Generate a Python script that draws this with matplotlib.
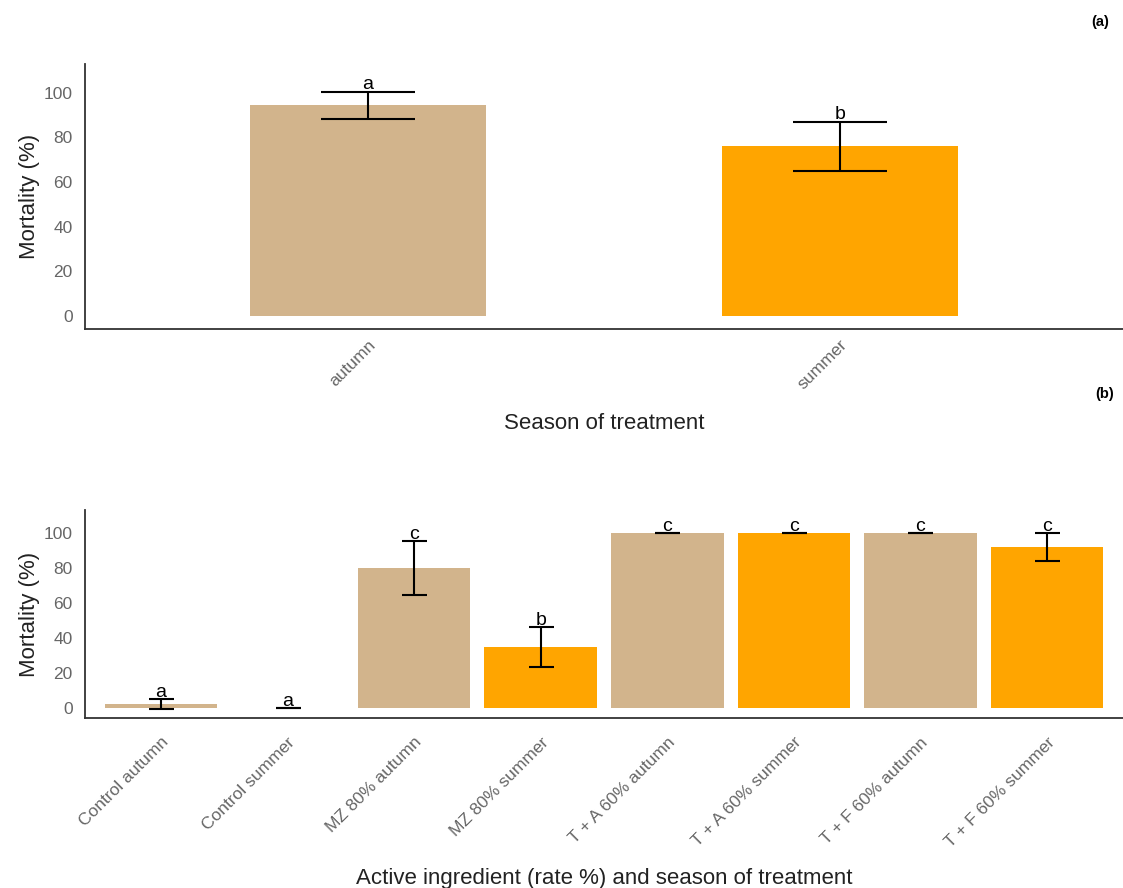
import matplotlib
matplotlib.use("Agg")
import matplotlib.pyplot as plt
import numpy as np

plt.rcParams['font.family'] = ['Liberation Sans', 'DejaVu Sans']

# panel (a): season of treatment
seasons = ["autumn", "summer"]
season_mean = [94.5, 76]
season_err = [6, 11]
season_letters = ["a", "b"]

# panel (b): active ingredient x season
treatments = ["Control autumn", "Control summer", "MZ 80% autumn", "MZ 80% summer",
              "T + A 60% autumn", "T + A 60% summer", "T + F 60% autumn", "T + F 60% summer"]
treat_mean = [2, 0, 80, 34.5, 100, 100, 100, 92]
treat_err = [3, 0, 15.5, 11.5, 0, 0, 0, 8]
treat_letters = ["a", "a", "c", "b", "c", "c", "c", "c"]

tan = "#D2B48C"
orange = "#FFA500"

fig = plt.figure(figsize=(11.23, 8.88), dpi=100)
ax1 = fig.add_axes([85/1123, 1 - 329/888, 1 - 85/1123, (329 - 64)/888])
ax2 = fig.add_axes([85/1123, 1 - 718/888, 1 - 85/1123, (718 - 510)/888])


def style(ax, xpad):
    for s in ["top", "right"]:
        ax.spines[s].set_visible(False)
    for s in ["left", "bottom"]:
        ax.spines[s].set_color("#333333")
        ax.spines[s].set_linewidth(1.3)
    ax.set_ylim(-6, 113)
    ax.set_yticks([0, 20, 40, 60, 80, 100])
    ax.tick_params(axis="y", length=0, pad=9, labelsize=12.5, labelcolor="#666666")
    ax.tick_params(axis="x", length=0, pad=xpad, labelsize=12.5, labelcolor="#666666")
    ax.set_ylabel("Mortality (%)", fontsize=16, color="#222222")
    ax.yaxis.set_label_coords(-0.043, 0.5)


# ---- panel (a)
x1 = np.arange(len(seasons))
ax1.bar(x1, season_mean, width=0.5, color=[tan, orange])
ax1.errorbar(x1, season_mean, yerr=season_err, fmt="none", ecolor="black",
             elinewidth=1.5, capsize=34, capthick=1.5)
for xi, m, e, l in zip(x1, season_mean, season_err, season_letters):
    ax1.annotate(l, (xi, m + e), xytext=(0, -1), textcoords="offset points",
                 ha="center", va="bottom", fontsize=14)
ax1.set_xlim(-0.6, 1.6)
style(ax1, 6)
ax1.set_xticks(x1)
ax1.set_xticklabels(seasons, rotation=45, ha="right", va="top", rotation_mode="anchor")
ax1.set_xlabel("Season of treatment", fontsize=16, color="#222222")
ax1.xaxis.set_label_coords(0.5, -0.318)

# ---- panel (b)
x2 = np.arange(len(treatments))
cols = [tan, orange] * 4
ax2.bar(x2, treat_mean, width=0.89, color=cols)
ax2.errorbar(x2, treat_mean, yerr=treat_err, fmt="none", ecolor="black",
             elinewidth=1.5, capsize=9, capthick=1.5)
for xi, m, e, l in zip(x2, treat_mean, treat_err, treat_letters):
    ax2.annotate(l, (xi, m + e), xytext=(0, -1.5), textcoords="offset points",
                 ha="center", va="bottom", fontsize=14)
ax2.set_xlim(-0.6, 7.6)
style(ax2, 12)
ax2.set_xticks(x2)
ax2.set_xticklabels(treatments, rotation=45, ha="right", va="top", rotation_mode="anchor")
ax2.set_xlabel("Active ingredient (rate %) and season of treatment", fontsize=16, color="#222222")
ax2.xaxis.set_label_coords(0.5, -0.72)

fig.text(1100/1123, 1 - 22/888, "(a)", fontsize=10.5, fontweight="bold", ha="center", va="center")
fig.text(1105/1123, 1 - 394/888, "(b)", fontsize=10.5, fontweight="bold", ha="center", va="center")

fig.savefig("out.png", dpi=100)
